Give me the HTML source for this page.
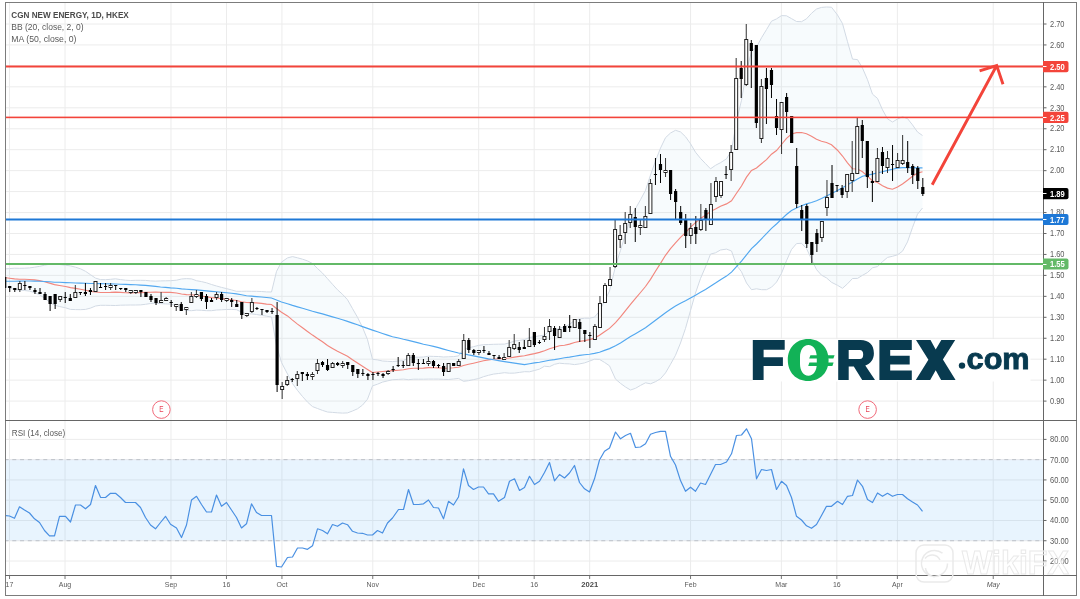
<!DOCTYPE html><html><head><meta charset="utf-8"><style>
html,body{margin:0;padding:0;background:#fff;width:1080px;height:599px;overflow:hidden}
svg{display:block;will-change:transform}
text{font-family:"Liberation Sans",sans-serif}
</style></head><body>
<svg width="1080" height="599" viewBox="0 0 1080 599">
<defs><clipPath id="cp"><rect x="6" y="3" width="1037" height="417"/></clipPath><clipPath id="cr"><rect x="6" y="421" width="1037" height="154"/></clipPath></defs>
<path d="M9.54 3V575 M65.03 3V575 M170.97 3V575 M226.46 3V575 M281.95 3V575 M372.75 3V575 M478.69 3V575 M534.18 3V575 M589.67 3V575 M690.56 3V575 M781.36 3V575 M836.85 3V575 M897.39 3V575 M993.24 3V575 M6 24.00H1043 M6 44.95H1043 M6 65.90H1043 M6 86.85H1043 M6 107.80H1043 M6 128.75H1043 M6 149.70H1043 M6 170.65H1043 M6 191.60H1043 M6 212.55H1043 M6 233.50H1043 M6 254.45H1043 M6 275.40H1043 M6 296.35H1043 M6 317.30H1043 M6 338.25H1043 M6 359.20H1043 M6 380.15H1043 M6 401.10H1043 M6 439.40H1043 M6 479.93H1043 M6 500.20H1043 M6 520.47H1043 M6 561.00H1043" stroke="#ececec" stroke-width="1" fill="none"/>
<g clip-path="url(#cp)">
<polygon points="4.5,268.9 9.5,268.6 14.5,268.2 19.5,268.3 24.5,268.2 29.5,267.9 34.5,267.2 39.5,266.4 44.5,265.2 49.5,264.2 54.5,263.9 59.5,264.5 65.5,265.2 70.5,265.9 75.5,267.2 80.5,268.8 85.5,271.3 90.5,274.7 95.5,278.1 100.5,279.6 105.5,279.7 110.5,279.3 115.5,278.8 120.5,279.6 125.5,280.2 130.5,280.5 135.5,280.3 140.5,280.3 145.5,280.4 150.5,280.9 155.5,281.1 160.5,280.9 165.5,280.8 170.5,280.7 176.5,280.2 181.5,279.0 186.5,278.6 191.5,278.9 196.5,280.7 201.5,281.6 206.5,282.8 211.5,284.5 216.5,286.0 221.5,287.4 226.5,288.6 231.5,289.9 236.5,291.3 241.5,291.3 246.5,291.2 251.5,291.3 256.5,291.3 261.5,291.5 266.5,291.9 271.5,292.0 276.5,271.4 281.5,262.1 287.5,257.9 292.5,256.6 297.5,257.8 302.5,259.2 307.5,260.9 312.5,263.5 317.5,268.5 322.5,273.1 327.5,278.7 332.5,284.3 337.5,289.8 342.5,294.3 347.5,299.7 352.5,308.6 357.5,317.3 362.5,327.3 367.5,339.6 372.5,359.3 377.5,359.9 382.5,361.0 387.5,361.3 392.5,361.6 398.5,361.0 403.5,360.5 408.5,357.8 413.5,357.2 418.5,357.2 423.5,357.0 428.5,356.2 433.5,356.4 438.5,356.5 443.5,357.0 448.5,356.8 453.5,356.6 458.5,355.9 463.5,349.7 468.5,347.8 473.5,346.7 478.5,345.4 483.5,344.7 488.5,344.5 493.5,344.3 498.5,344.2 504.5,344.1 509.5,342.8 514.5,341.0 519.5,340.4 524.5,339.6 529.5,337.5 534.5,336.7 539.5,335.8 544.5,335.2 549.5,330.9 554.5,330.3 559.5,328.2 564.5,326.9 569.5,324.4 574.5,320.4 579.5,318.9 584.5,318.2 589.5,318.2 594.5,317.1 599.5,311.2 604.5,301.1 609.5,291.0 615.5,266.2 620.5,250.3 625.5,234.1 630.5,218.5 635.5,208.5 640.5,199.7 645.5,190.3 650.5,175.0 655.5,160.9 660.5,148.1 665.5,137.7 670.5,133.0 675.5,130.3 680.5,131.9 685.5,136.7 690.5,143.7 695.5,152.2 700.5,158.4 705.5,163.6 710.5,168.8 715.5,165.3 720.5,162.7 726.5,158.8 731.5,150.5 736.5,121.4 741.5,100.2 746.5,71.3 751.5,51.4 756.5,47.1 761.5,37.8 766.5,29.6 771.5,21.2 776.5,18.9 781.5,15.6 786.5,15.8 791.5,18.6 796.5,21.5 801.5,21.7 806.5,18.8 811.5,13.3 816.5,9.0 821.5,7.4 826.5,7.0 831.5,7.2 837.5,15.0 842.5,23.6 847.5,41.7 852.5,59.1 857.5,59.6 862.5,68.1 867.5,79.7 872.5,94.2 877.5,98.4 882.5,109.8 887.5,118.8 892.5,122.0 897.5,119.0 902.5,116.8 907.5,118.6 912.5,124.9 917.5,132.0 922.5,135.5 922.5,208.0 917.5,214.2 912.5,227.5 907.5,241.9 902.5,251.2 897.5,254.8 892.5,256.3 887.5,257.4 882.5,261.7 877.5,266.6 872.5,267.8 867.5,272.5 862.5,275.3 857.5,278.4 852.5,278.5 847.5,283.8 842.5,288.3 837.5,285.3 831.5,282.3 826.5,277.9 821.5,275.2 816.5,269.6 811.5,259.1 806.5,248.5 801.5,243.3 796.5,243.6 791.5,249.5 786.5,260.7 781.5,273.3 776.5,282.1 771.5,287.2 766.5,289.7 761.5,289.7 756.5,288.8 751.5,289.7 746.5,283.0 741.5,271.8 736.5,265.2 731.5,251.0 726.5,249.1 720.5,250.0 715.5,252.8 710.5,254.1 705.5,266.9 700.5,278.5 695.5,293.0 690.5,310.6 685.5,328.4 680.5,343.0 675.5,355.3 670.5,364.3 665.5,372.9 660.5,378.7 655.5,381.7 650.5,383.8 645.5,382.8 640.5,385.4 635.5,388.3 630.5,390.0 625.5,387.0 620.5,383.4 615.5,379.1 609.5,365.8 604.5,362.4 599.5,359.4 594.5,359.2 589.5,361.1 584.5,362.9 579.5,363.9 574.5,364.6 569.5,363.9 564.5,363.7 559.5,363.2 554.5,364.3 549.5,366.7 544.5,366.2 539.5,369.1 534.5,370.5 529.5,371.8 524.5,371.7 519.5,372.4 514.5,373.1 509.5,373.2 504.5,372.7 498.5,373.5 493.5,374.1 488.5,375.3 483.5,376.7 478.5,378.6 473.5,379.6 468.5,380.7 463.5,381.3 458.5,378.4 453.5,379.0 448.5,379.5 443.5,379.4 438.5,379.1 433.5,379.1 428.5,379.1 423.5,379.2 418.5,379.2 413.5,379.2 408.5,379.7 403.5,379.1 398.5,379.4 392.5,379.7 387.5,380.9 382.5,382.1 377.5,384.2 372.5,385.9 367.5,399.2 362.5,405.1 357.5,408.8 352.5,411.0 347.5,412.9 342.5,413.1 337.5,412.8 332.5,412.4 327.5,412.0 322.5,410.4 317.5,408.5 312.5,406.6 307.5,402.1 302.5,396.5 297.5,390.4 292.5,383.6 287.5,374.0 281.5,362.5 276.5,345.6 271.5,317.0 266.5,316.2 261.5,315.3 256.5,314.5 251.5,313.9 246.5,313.8 241.5,312.1 236.5,309.7 231.5,309.4 226.5,309.5 221.5,309.8 216.5,310.0 211.5,310.7 206.5,310.7 201.5,310.3 196.5,310.1 191.5,310.7 186.5,310.5 181.5,308.9 176.5,305.9 170.5,304.1 165.5,303.9 160.5,303.7 155.5,303.1 150.5,303.5 145.5,304.3 140.5,304.9 135.5,305.0 130.5,305.0 125.5,305.1 120.5,305.2 115.5,305.5 110.5,305.4 105.5,305.3 100.5,305.3 95.5,306.0 90.5,308.1 85.5,309.4 80.5,309.7 75.5,309.6 70.5,309.4 65.5,307.8 59.5,306.5 54.5,305.2 49.5,302.1 44.5,298.2 39.5,294.7 34.5,292.6 29.5,291.1 24.5,290.5 19.5,290.0 14.5,289.7 9.5,287.8 4.5,286.1" fill="#1e8cc8" fill-opacity="0.036" stroke="none"/>
<polyline points="4.5,268.9 9.5,268.6 14.5,268.2 19.5,268.3 24.5,268.2 29.5,267.9 34.5,267.2 39.5,266.4 44.5,265.2 49.5,264.2 54.5,263.9 59.5,264.5 65.5,265.2 70.5,265.9 75.5,267.2 80.5,268.8 85.5,271.3 90.5,274.7 95.5,278.1 100.5,279.6 105.5,279.7 110.5,279.3 115.5,278.8 120.5,279.6 125.5,280.2 130.5,280.5 135.5,280.3 140.5,280.3 145.5,280.4 150.5,280.9 155.5,281.1 160.5,280.9 165.5,280.8 170.5,280.7 176.5,280.2 181.5,279.0 186.5,278.6 191.5,278.9 196.5,280.7 201.5,281.6 206.5,282.8 211.5,284.5 216.5,286.0 221.5,287.4 226.5,288.6 231.5,289.9 236.5,291.3 241.5,291.3 246.5,291.2 251.5,291.3 256.5,291.3 261.5,291.5 266.5,291.9 271.5,292.0 276.5,271.4 281.5,262.1 287.5,257.9 292.5,256.6 297.5,257.8 302.5,259.2 307.5,260.9 312.5,263.5 317.5,268.5 322.5,273.1 327.5,278.7 332.5,284.3 337.5,289.8 342.5,294.3 347.5,299.7 352.5,308.6 357.5,317.3 362.5,327.3 367.5,339.6 372.5,359.3 377.5,359.9 382.5,361.0 387.5,361.3 392.5,361.6 398.5,361.0 403.5,360.5 408.5,357.8 413.5,357.2 418.5,357.2 423.5,357.0 428.5,356.2 433.5,356.4 438.5,356.5 443.5,357.0 448.5,356.8 453.5,356.6 458.5,355.9 463.5,349.7 468.5,347.8 473.5,346.7 478.5,345.4 483.5,344.7 488.5,344.5 493.5,344.3 498.5,344.2 504.5,344.1 509.5,342.8 514.5,341.0 519.5,340.4 524.5,339.6 529.5,337.5 534.5,336.7 539.5,335.8 544.5,335.2 549.5,330.9 554.5,330.3 559.5,328.2 564.5,326.9 569.5,324.4 574.5,320.4 579.5,318.9 584.5,318.2 589.5,318.2 594.5,317.1 599.5,311.2 604.5,301.1 609.5,291.0 615.5,266.2 620.5,250.3 625.5,234.1 630.5,218.5 635.5,208.5 640.5,199.7 645.5,190.3 650.5,175.0 655.5,160.9 660.5,148.1 665.5,137.7 670.5,133.0 675.5,130.3 680.5,131.9 685.5,136.7 690.5,143.7 695.5,152.2 700.5,158.4 705.5,163.6 710.5,168.8 715.5,165.3 720.5,162.7 726.5,158.8 731.5,150.5 736.5,121.4 741.5,100.2 746.5,71.3 751.5,51.4 756.5,47.1 761.5,37.8 766.5,29.6 771.5,21.2 776.5,18.9 781.5,15.6 786.5,15.8 791.5,18.6 796.5,21.5 801.5,21.7 806.5,18.8 811.5,13.3 816.5,9.0 821.5,7.4 826.5,7.0 831.5,7.2 837.5,15.0 842.5,23.6 847.5,41.7 852.5,59.1 857.5,59.6 862.5,68.1 867.5,79.7 872.5,94.2 877.5,98.4 882.5,109.8 887.5,118.8 892.5,122.0 897.5,119.0 902.5,116.8 907.5,118.6 912.5,124.9 917.5,132.0 922.5,135.5" fill="none" stroke="#d2dae4" stroke-width="1"/>
<polyline points="4.5,286.1 9.5,287.8 14.5,289.7 19.5,290.0 24.5,290.5 29.5,291.1 34.5,292.6 39.5,294.7 44.5,298.2 49.5,302.1 54.5,305.2 59.5,306.5 65.5,307.8 70.5,309.4 75.5,309.6 80.5,309.7 85.5,309.4 90.5,308.1 95.5,306.0 100.5,305.3 105.5,305.3 110.5,305.4 115.5,305.5 120.5,305.2 125.5,305.1 130.5,305.0 135.5,305.0 140.5,304.9 145.5,304.3 150.5,303.5 155.5,303.1 160.5,303.7 165.5,303.9 170.5,304.1 176.5,305.9 181.5,308.9 186.5,310.5 191.5,310.7 196.5,310.1 201.5,310.3 206.5,310.7 211.5,310.7 216.5,310.0 221.5,309.8 226.5,309.5 231.5,309.4 236.5,309.7 241.5,312.1 246.5,313.8 251.5,313.9 256.5,314.5 261.5,315.3 266.5,316.2 271.5,317.0 276.5,345.6 281.5,362.5 287.5,374.0 292.5,383.6 297.5,390.4 302.5,396.5 307.5,402.1 312.5,406.6 317.5,408.5 322.5,410.4 327.5,412.0 332.5,412.4 337.5,412.8 342.5,413.1 347.5,412.9 352.5,411.0 357.5,408.8 362.5,405.1 367.5,399.2 372.5,385.9 377.5,384.2 382.5,382.1 387.5,380.9 392.5,379.7 398.5,379.4 403.5,379.1 408.5,379.7 413.5,379.2 418.5,379.2 423.5,379.2 428.5,379.1 433.5,379.1 438.5,379.1 443.5,379.4 448.5,379.5 453.5,379.0 458.5,378.4 463.5,381.3 468.5,380.7 473.5,379.6 478.5,378.6 483.5,376.7 488.5,375.3 493.5,374.1 498.5,373.5 504.5,372.7 509.5,373.2 514.5,373.1 519.5,372.4 524.5,371.7 529.5,371.8 534.5,370.5 539.5,369.1 544.5,366.2 549.5,366.7 554.5,364.3 559.5,363.2 564.5,363.7 569.5,363.9 574.5,364.6 579.5,363.9 584.5,362.9 589.5,361.1 594.5,359.2 599.5,359.4 604.5,362.4 609.5,365.8 615.5,379.1 620.5,383.4 625.5,387.0 630.5,390.0 635.5,388.3 640.5,385.4 645.5,382.8 650.5,383.8 655.5,381.7 660.5,378.7 665.5,372.9 670.5,364.3 675.5,355.3 680.5,343.0 685.5,328.4 690.5,310.6 695.5,293.0 700.5,278.5 705.5,266.9 710.5,254.1 715.5,252.8 720.5,250.0 726.5,249.1 731.5,251.0 736.5,265.2 741.5,271.8 746.5,283.0 751.5,289.7 756.5,288.8 761.5,289.7 766.5,289.7 771.5,287.2 776.5,282.1 781.5,273.3 786.5,260.7 791.5,249.5 796.5,243.6 801.5,243.3 806.5,248.5 811.5,259.1 816.5,269.6 821.5,275.2 826.5,277.9 831.5,282.3 837.5,285.3 842.5,288.3 847.5,283.8 852.5,278.5 857.5,278.4 862.5,275.3 867.5,272.5 872.5,267.8 877.5,266.6 882.5,261.7 887.5,257.4 892.5,256.3 897.5,254.8 902.5,251.2 907.5,241.9 912.5,227.5 917.5,214.2 922.5,208.0" fill="none" stroke="#d2dae4" stroke-width="1"/>
<polyline points="4.5,277.5 9.5,278.2 14.5,278.9 19.5,279.2 24.5,279.3 29.5,279.5 34.5,279.9 39.5,280.6 44.5,281.7 49.5,283.1 54.5,284.6 59.5,285.5 65.5,286.5 70.5,287.6 75.5,288.4 80.5,289.2 85.5,290.3 90.5,291.4 95.5,292.0 100.5,292.5 105.5,292.5 110.5,292.4 115.5,292.1 120.5,292.4 125.5,292.7 130.5,292.8 135.5,292.7 140.5,292.6 145.5,292.4 150.5,292.2 155.5,292.1 160.5,292.3 165.5,292.4 170.5,292.4 176.5,293.0 181.5,294.0 186.5,294.6 191.5,294.8 196.5,295.4 201.5,296.0 206.5,296.7 211.5,297.6 216.5,298.0 221.5,298.6 226.5,299.1 231.5,299.7 236.5,300.5 241.5,301.7 246.5,302.5 251.5,302.6 256.5,302.9 261.5,303.4 266.5,304.1 271.5,304.5 276.5,308.5 281.5,312.3 287.5,315.9 292.5,320.1 297.5,324.1 302.5,327.8 307.5,331.5 312.5,335.1 317.5,338.5 322.5,341.8 327.5,345.4 332.5,348.4 337.5,351.3 342.5,353.7 347.5,356.3 352.5,359.8 357.5,363.0 362.5,366.2 367.5,369.4 372.5,372.6 377.5,372.0 382.5,371.5 387.5,371.1 392.5,370.6 398.5,370.2 403.5,369.8 408.5,368.7 413.5,368.2 418.5,368.2 423.5,368.1 428.5,367.7 433.5,367.8 438.5,367.8 443.5,368.2 448.5,368.1 453.5,367.8 458.5,367.2 463.5,365.5 468.5,364.3 473.5,363.2 478.5,362.0 483.5,360.7 488.5,359.9 493.5,359.2 498.5,358.8 504.5,358.4 509.5,358.0 514.5,357.1 519.5,356.4 524.5,355.7 529.5,354.6 534.5,353.6 539.5,352.4 544.5,350.7 549.5,348.8 554.5,347.3 559.5,345.7 564.5,345.3 569.5,344.1 574.5,342.5 579.5,341.4 584.5,340.6 589.5,339.6 594.5,338.1 599.5,335.3 604.5,331.8 609.5,328.4 615.5,322.6 620.5,316.9 625.5,310.6 630.5,304.3 635.5,298.4 640.5,292.5 645.5,286.5 650.5,279.4 655.5,271.3 660.5,263.4 665.5,255.3 670.5,248.6 675.5,242.8 680.5,237.4 685.5,232.6 690.5,227.2 695.5,222.6 700.5,218.5 705.5,215.2 710.5,211.5 715.5,209.1 720.5,206.3 726.5,203.9 731.5,200.8 736.5,193.3 741.5,186.0 746.5,177.1 751.5,170.5 756.5,167.9 761.5,163.7 766.5,159.7 771.5,154.2 776.5,150.5 781.5,144.5 786.5,138.3 791.5,134.0 796.5,132.6 801.5,132.5 806.5,133.7 811.5,136.2 816.5,139.3 821.5,141.3 826.5,142.5 831.5,144.8 837.5,150.2 842.5,156.0 847.5,162.8 852.5,168.8 857.5,169.0 862.5,171.7 867.5,176.1 872.5,181.0 877.5,182.5 882.5,185.8 887.5,188.1 892.5,189.2 897.5,186.9 902.5,184.0 907.5,180.2 912.5,176.2 917.5,173.1 922.5,171.7" fill="none" stroke="#f2877e" stroke-width="1.15"/>
<polyline points="4.5,281.2 9.5,281.2 14.5,281.2 19.5,281.1 24.5,281.0 29.5,281.0 34.5,281.1 39.5,281.2 44.5,281.5 49.5,281.8 54.5,282.2 59.5,282.3 65.5,282.6 70.5,282.8 75.5,283.0 80.5,283.1 85.5,283.3 90.5,283.5 95.5,283.5 100.5,283.6 105.5,283.7 110.5,283.9 115.5,284.0 120.5,284.2 125.5,284.4 130.5,284.6 135.5,284.8 140.5,285.1 145.5,285.4 150.5,285.9 155.5,286.4 160.5,287.0 165.5,287.4 170.5,287.9 176.5,288.3 181.5,288.9 186.5,289.3 191.5,289.6 196.5,289.9 201.5,290.4 206.5,290.9 211.5,291.4 216.5,291.8 221.5,292.2 226.5,292.7 231.5,293.2 236.5,293.9 241.5,294.8 246.5,295.7 251.5,296.1 256.5,296.6 261.5,297.0 266.5,297.5 271.5,298.0 276.5,300.0 281.5,302.0 287.5,303.7 292.5,305.4 297.5,306.9 302.5,308.3 307.5,309.7 312.5,311.3 317.5,312.6 322.5,313.9 327.5,315.4 332.5,316.9 337.5,318.3 342.5,319.7 347.5,321.4 352.5,323.1 357.5,324.8 362.5,326.6 367.5,328.4 372.5,330.1 377.5,331.8 382.5,333.5 387.5,335.1 392.5,336.7 398.5,338.0 403.5,339.3 408.5,340.4 413.5,341.6 418.5,342.9 423.5,344.2 428.5,345.3 433.5,346.4 438.5,347.6 443.5,349.1 448.5,350.5 453.5,351.8 458.5,353.0 463.5,353.7 468.5,354.9 473.5,355.9 478.5,356.9 483.5,357.9 488.5,358.9 493.5,359.7 498.5,360.6 504.5,361.6 509.5,362.4 514.5,363.1 519.5,363.9 524.5,364.6 529.5,363.7 534.5,362.9 539.5,362.2 544.5,361.3 549.5,360.3 554.5,359.6 559.5,358.7 564.5,357.8 569.5,357.1 574.5,356.2 579.5,355.4 584.5,354.8 589.5,354.2 594.5,353.4 599.5,352.2 604.5,350.4 609.5,348.6 615.5,345.7 620.5,342.9 625.5,339.8 630.5,336.6 635.5,333.7 640.5,330.7 645.5,327.7 650.5,324.0 655.5,320.2 660.5,316.5 665.5,312.7 670.5,309.3 675.5,306.1 680.5,303.3 685.5,300.7 690.5,297.9 695.5,295.2 700.5,292.3 705.5,289.4 710.5,286.3 715.5,283.1 720.5,279.7 726.5,276.1 731.5,272.1 736.5,266.7 741.5,261.2 746.5,254.9 751.5,248.7 756.5,244.0 761.5,238.8 766.5,233.7 771.5,228.4 776.5,224.0 781.5,219.2 786.5,214.5 791.5,210.6 796.5,207.9 801.5,205.8 806.5,203.9 811.5,202.5 816.5,200.7 821.5,198.6 826.5,196.1 831.5,193.5 837.5,190.5 842.5,187.7 847.5,184.7 852.5,182.1 857.5,178.9 862.5,176.2 867.5,175.1 872.5,174.1 877.5,172.8 882.5,171.8 887.5,170.4 892.5,169.2 897.5,168.1 902.5,167.6 907.5,167.5 912.5,167.6 917.5,167.8 922.5,167.8" fill="none" stroke="#52a8f0" stroke-width="1.15"/>
<rect x="9.24" y="286" width="1" height="6" fill="#000"/><rect x="8.14" y="286" width="3.2" height="2" fill="#000"/><rect x="14.28" y="288" width="1" height="4" fill="#000"/><rect x="13.18" y="288" width="3.2" height="2" fill="#000"/><rect x="19.33" y="281" width="1" height="11" fill="#333"/><rect x="18.33" y="283.5" width="3" height="6" fill="#fff" stroke="#222" stroke-width="1"/><rect x="24.37" y="281" width="1" height="9" fill="#000"/><rect x="23.27" y="285" width="3.2" height="1" fill="#000"/><rect x="29.42" y="286" width="1" height="4" fill="#000"/><rect x="28.32" y="286" width="3.2" height="2" fill="#000"/><rect x="34.46" y="288" width="1" height="6" fill="#000"/><rect x="33.36" y="290" width="3.2" height="2" fill="#000"/><rect x="39.51" y="288" width="1" height="6" fill="#000"/><rect x="38.41" y="292" width="3.2" height="2" fill="#000"/><rect x="44.55" y="292" width="1" height="8" fill="#000"/><rect x="43.45" y="294" width="3.2" height="6" fill="#000"/><rect x="49.60" y="296" width="1" height="15" fill="#000"/><rect x="48.50" y="296" width="3.2" height="8" fill="#000"/><rect x="54.64" y="294" width="1" height="15" fill="#000"/><rect x="53.54" y="294" width="3.2" height="10" fill="#000"/><rect x="59.69" y="296" width="1" height="6" fill="#333"/><rect x="58.69" y="296.5" width="3" height="3" fill="#fff" stroke="#222" stroke-width="1"/><rect x="64.73" y="292" width="1" height="11" fill="#000"/><rect x="63.63" y="297" width="3.2" height="1" fill="#000"/><rect x="69.78" y="294" width="1" height="7" fill="#000"/><rect x="68.68" y="298" width="3.2" height="3" fill="#000"/><rect x="74.82" y="285" width="1" height="13" fill="#333"/><rect x="73.82" y="292.5" width="3" height="5" fill="#fff" stroke="#222" stroke-width="1"/><rect x="79.86" y="292" width="1" height="3" fill="#000"/><rect x="78.76" y="292" width="3.2" height="1" fill="#000"/><rect x="84.91" y="283" width="1" height="13" fill="#000"/><rect x="83.81" y="292" width="3.2" height="2" fill="#000"/><rect x="89.95" y="288" width="1" height="7" fill="#000"/><rect x="88.85" y="290" width="3.2" height="2" fill="#000"/><rect x="95.00" y="281" width="1" height="11" fill="#333"/><rect x="94.00" y="281.5" width="3" height="10" fill="#fff" stroke="#222" stroke-width="1"/><rect x="100.04" y="283" width="1" height="5" fill="#000"/><rect x="98.94" y="287" width="3.2" height="1" fill="#000"/><rect x="105.09" y="283" width="1" height="7" fill="#000"/><rect x="103.99" y="286" width="3.2" height="1" fill="#000"/><rect x="110.13" y="283" width="1" height="7" fill="#333"/><rect x="109.13" y="285.5" width="3" height="2" fill="#fff" stroke="#222" stroke-width="1"/><rect x="115.18" y="285" width="1" height="5" fill="#000"/><rect x="114.08" y="285" width="3.2" height="1" fill="#000"/><rect x="120.22" y="288" width="1" height="2" fill="#000"/><rect x="119.12" y="288" width="3.2" height="1" fill="#000"/><rect x="125.27" y="288" width="1" height="4" fill="#000"/><rect x="124.17" y="288" width="3.2" height="2" fill="#000"/><rect x="130.31" y="290" width="1" height="4" fill="#333"/><rect x="129.31" y="290.5" width="3" height="2" fill="#fff" stroke="#222" stroke-width="1"/><rect x="135.35" y="290" width="1" height="4" fill="#333"/><rect x="134.35" y="290.5" width="3" height="2" fill="#fff" stroke="#222" stroke-width="1"/><rect x="140.40" y="290" width="1" height="7" fill="#000"/><rect x="139.30" y="290" width="3.2" height="2" fill="#000"/><rect x="145.44" y="292" width="1" height="5" fill="#000"/><rect x="144.34" y="292" width="3.2" height="5" fill="#000"/><rect x="150.49" y="294" width="1" height="8" fill="#000"/><rect x="149.39" y="296" width="3.2" height="4" fill="#000"/><rect x="155.53" y="298" width="1" height="7" fill="#000"/><rect x="154.43" y="298" width="3.2" height="5" fill="#000"/><rect x="160.58" y="292" width="1" height="10" fill="#333"/><rect x="159.58" y="300.5" width="3" height="2" fill="#fff" stroke="#222" stroke-width="1"/><rect x="165.62" y="297" width="1" height="3" fill="#333"/><rect x="164.62" y="298.5" width="3" height="2" fill="#fff" stroke="#222" stroke-width="1"/><rect x="170.67" y="300" width="1" height="7" fill="#000"/><rect x="169.57" y="302" width="3.2" height="1" fill="#000"/><rect x="175.71" y="304" width="1" height="7" fill="#333"/><rect x="174.71" y="304.5" width="3" height="2" fill="#fff" stroke="#222" stroke-width="1"/><rect x="180.76" y="302" width="1" height="9" fill="#000"/><rect x="179.66" y="304" width="3.2" height="7" fill="#000"/><rect x="185.80" y="307" width="1" height="8" fill="#333"/><rect x="184.80" y="307.5" width="3" height="2" fill="#fff" stroke="#222" stroke-width="1"/><rect x="190.85" y="292" width="1" height="11" fill="#333"/><rect x="189.85" y="296.5" width="3" height="6" fill="#fff" stroke="#222" stroke-width="1"/><rect x="195.89" y="290" width="1" height="8" fill="#333"/><rect x="194.89" y="294.5" width="3" height="2" fill="#fff" stroke="#222" stroke-width="1"/><rect x="200.93" y="292" width="1" height="9" fill="#000"/><rect x="199.83" y="292" width="3.2" height="7" fill="#000"/><rect x="205.98" y="294" width="1" height="15" fill="#000"/><rect x="204.88" y="296" width="3.2" height="6" fill="#000"/><rect x="211.02" y="298" width="1" height="4" fill="#000"/><rect x="209.92" y="300" width="3.2" height="2" fill="#000"/><rect x="216.07" y="292" width="1" height="8" fill="#333"/><rect x="215.07" y="294.5" width="3" height="3" fill="#fff" stroke="#222" stroke-width="1"/><rect x="221.11" y="292" width="1" height="10" fill="#000"/><rect x="220.01" y="294" width="3.2" height="6" fill="#000"/><rect x="226.16" y="298" width="1" height="4" fill="#333"/><rect x="225.16" y="298.5" width="3" height="2" fill="#fff" stroke="#222" stroke-width="1"/><rect x="231.20" y="298" width="1" height="9" fill="#000"/><rect x="230.10" y="300" width="3.2" height="2" fill="#000"/><rect x="236.25" y="300" width="1" height="7" fill="#000"/><rect x="235.15" y="304" width="3.2" height="3" fill="#000"/><rect x="241.29" y="302" width="1" height="17" fill="#000"/><rect x="240.19" y="302" width="3.2" height="13" fill="#000"/><rect x="246.34" y="313" width="1" height="4" fill="#333"/><rect x="245.34" y="313.5" width="3" height="2" fill="#fff" stroke="#222" stroke-width="1"/><rect x="251.38" y="298" width="1" height="15" fill="#333"/><rect x="250.38" y="302.5" width="3" height="9" fill="#fff" stroke="#222" stroke-width="1"/><rect x="256.43" y="307" width="1" height="3" fill="#000"/><rect x="255.33" y="308" width="3.2" height="1" fill="#000"/><rect x="261.47" y="309" width="1" height="6" fill="#000"/><rect x="260.37" y="309" width="3.2" height="1" fill="#000"/><rect x="266.51" y="310" width="1" height="3" fill="#000"/><rect x="265.41" y="310" width="3.2" height="2" fill="#000"/><rect x="271.56" y="308" width="1" height="6" fill="#000"/><rect x="270.46" y="311" width="3.2" height="1" fill="#000"/><rect x="276.60" y="302" width="1" height="90" fill="#000"/><rect x="275.50" y="315" width="3.2" height="70" fill="#000"/><rect x="281.65" y="382" width="1" height="17" fill="#333"/><rect x="280.65" y="386.5" width="3" height="3" fill="#fff" stroke="#222" stroke-width="1"/><rect x="286.69" y="376" width="1" height="10" fill="#333"/><rect x="285.69" y="380.5" width="3" height="4" fill="#fff" stroke="#222" stroke-width="1"/><rect x="291.74" y="378" width="1" height="4" fill="#000"/><rect x="290.64" y="379" width="3.2" height="1" fill="#000"/><rect x="296.78" y="371" width="1" height="15" fill="#333"/><rect x="295.78" y="374.5" width="3" height="4" fill="#fff" stroke="#222" stroke-width="1"/><rect x="301.83" y="372" width="1" height="9" fill="#000"/><rect x="300.73" y="372" width="3.2" height="2" fill="#000"/><rect x="306.87" y="372" width="1" height="8" fill="#000"/><rect x="305.77" y="374" width="3.2" height="2" fill="#000"/><rect x="311.92" y="372" width="1" height="8" fill="#333"/><rect x="310.92" y="374.5" width="3" height="2" fill="#fff" stroke="#222" stroke-width="1"/><rect x="316.96" y="359" width="1" height="15" fill="#333"/><rect x="315.96" y="363.5" width="3" height="7" fill="#fff" stroke="#222" stroke-width="1"/><rect x="322.01" y="361" width="1" height="6" fill="#000"/><rect x="320.91" y="362" width="3.2" height="3" fill="#000"/><rect x="327.05" y="359" width="1" height="12" fill="#000"/><rect x="325.95" y="365" width="3.2" height="5" fill="#000"/><rect x="332.09" y="362" width="1" height="6" fill="#333"/><rect x="331.09" y="363.5" width="3" height="4" fill="#fff" stroke="#222" stroke-width="1"/><rect x="337.14" y="362" width="1" height="4" fill="#000"/><rect x="336.04" y="363" width="3.2" height="2" fill="#000"/><rect x="342.18" y="361" width="1" height="7" fill="#333"/><rect x="341.18" y="363.5" width="3" height="2" fill="#fff" stroke="#222" stroke-width="1"/><rect x="347.23" y="362" width="1" height="7" fill="#000"/><rect x="346.13" y="362" width="3.2" height="3" fill="#000"/><rect x="352.27" y="365" width="1" height="11" fill="#000"/><rect x="351.17" y="365" width="3.2" height="7" fill="#000"/><rect x="357.32" y="369" width="1" height="9" fill="#000"/><rect x="356.22" y="369" width="3.2" height="5" fill="#000"/><rect x="362.36" y="369" width="1" height="7" fill="#000"/><rect x="361.26" y="373" width="3.2" height="1" fill="#000"/><rect x="367.41" y="373" width="1" height="7" fill="#000"/><rect x="366.31" y="374" width="3.2" height="2" fill="#000"/><rect x="372.45" y="372" width="1" height="8" fill="#000"/><rect x="371.35" y="374" width="3.2" height="1" fill="#000"/><rect x="377.50" y="372" width="1" height="4" fill="#000"/><rect x="376.40" y="373" width="3.2" height="1" fill="#000"/><rect x="382.54" y="373" width="1" height="5" fill="#000"/><rect x="381.44" y="374" width="3.2" height="2" fill="#000"/><rect x="387.58" y="370" width="1" height="5" fill="#333"/><rect x="386.58" y="371.5" width="3" height="2" fill="#fff" stroke="#222" stroke-width="1"/><rect x="392.63" y="366" width="1" height="6" fill="#000"/><rect x="391.53" y="369" width="3.2" height="1" fill="#000"/><rect x="397.67" y="357" width="1" height="10" fill="#000"/><rect x="396.57" y="365" width="3.2" height="1" fill="#000"/><rect x="402.72" y="361" width="1" height="7" fill="#000"/><rect x="401.62" y="365" width="3.2" height="1" fill="#000"/><rect x="407.76" y="353" width="1" height="13" fill="#333"/><rect x="406.76" y="355.5" width="3" height="10" fill="#fff" stroke="#222" stroke-width="1"/><rect x="412.81" y="353" width="1" height="13" fill="#000"/><rect x="411.71" y="355" width="3.2" height="8" fill="#000"/><rect x="417.85" y="359" width="1" height="11" fill="#000"/><rect x="416.75" y="363" width="3.2" height="1" fill="#000"/><rect x="422.90" y="359" width="1" height="4" fill="#000"/><rect x="421.80" y="363" width="3.2" height="1" fill="#000"/><rect x="427.94" y="357" width="1" height="9" fill="#333"/><rect x="426.94" y="361.5" width="3" height="2" fill="#fff" stroke="#222" stroke-width="1"/><rect x="432.99" y="360" width="1" height="8" fill="#000"/><rect x="431.89" y="361" width="3.2" height="5" fill="#000"/><rect x="438.03" y="364" width="1" height="4" fill="#000"/><rect x="436.93" y="365" width="3.2" height="1" fill="#000"/><rect x="443.08" y="363" width="1" height="13" fill="#000"/><rect x="441.98" y="366" width="3.2" height="6" fill="#000"/><rect x="448.12" y="363" width="1" height="9" fill="#333"/><rect x="447.12" y="363.5" width="3" height="8" fill="#fff" stroke="#222" stroke-width="1"/><rect x="453.16" y="363" width="1" height="3" fill="#000"/><rect x="452.06" y="363" width="3.2" height="3" fill="#000"/><rect x="458.21" y="359" width="1" height="7" fill="#333"/><rect x="457.21" y="361.5" width="3" height="4" fill="#fff" stroke="#222" stroke-width="1"/><rect x="463.25" y="334" width="1" height="25" fill="#333"/><rect x="462.25" y="340.5" width="3" height="18" fill="#fff" stroke="#222" stroke-width="1"/><rect x="468.30" y="338" width="1" height="15" fill="#000"/><rect x="467.20" y="340" width="3.2" height="10" fill="#000"/><rect x="473.34" y="349" width="1" height="6" fill="#000"/><rect x="472.24" y="350" width="3.2" height="3" fill="#000"/><rect x="478.39" y="350" width="1" height="5" fill="#333"/><rect x="477.39" y="350.5" width="3" height="2" fill="#fff" stroke="#222" stroke-width="1"/><rect x="483.43" y="346" width="1" height="7" fill="#000"/><rect x="482.33" y="350" width="3.2" height="1" fill="#000"/><rect x="488.48" y="351" width="1" height="4" fill="#000"/><rect x="487.38" y="353" width="3.2" height="2" fill="#000"/><rect x="493.52" y="355" width="1" height="4" fill="#000"/><rect x="492.42" y="355" width="3.2" height="1" fill="#000"/><rect x="498.57" y="355" width="1" height="4" fill="#000"/><rect x="497.47" y="357" width="3.2" height="2" fill="#000"/><rect x="503.61" y="353" width="1" height="6" fill="#333"/><rect x="502.61" y="357.5" width="3" height="2" fill="#fff" stroke="#222" stroke-width="1"/><rect x="508.66" y="340" width="1" height="17" fill="#333"/><rect x="507.66" y="347.5" width="3" height="9" fill="#fff" stroke="#222" stroke-width="1"/><rect x="513.70" y="334" width="1" height="16" fill="#333"/><rect x="512.70" y="344.5" width="3" height="4" fill="#fff" stroke="#222" stroke-width="1"/><rect x="518.74" y="342" width="1" height="11" fill="#000"/><rect x="517.64" y="347" width="3.2" height="3" fill="#000"/><rect x="523.79" y="340" width="1" height="9" fill="#000"/><rect x="522.69" y="347" width="3.2" height="2" fill="#000"/><rect x="528.83" y="328" width="1" height="19" fill="#333"/><rect x="527.83" y="340.5" width="3" height="6" fill="#fff" stroke="#222" stroke-width="1"/><rect x="533.88" y="332" width="1" height="15" fill="#000"/><rect x="532.78" y="332" width="3.2" height="13" fill="#000"/><rect x="538.92" y="340" width="1" height="4" fill="#000"/><rect x="537.82" y="342" width="3.2" height="1" fill="#000"/><rect x="543.97" y="327" width="1" height="15" fill="#333"/><rect x="542.97" y="336.5" width="3" height="3" fill="#fff" stroke="#222" stroke-width="1"/><rect x="549.01" y="319" width="1" height="21" fill="#333"/><rect x="548.01" y="326.5" width="3" height="5" fill="#fff" stroke="#222" stroke-width="1"/><rect x="554.06" y="326" width="1" height="24" fill="#000"/><rect x="552.96" y="328" width="3.2" height="8" fill="#000"/><rect x="559.10" y="326" width="1" height="12" fill="#333"/><rect x="558.10" y="329.5" width="3" height="8" fill="#fff" stroke="#222" stroke-width="1"/><rect x="564.15" y="324" width="1" height="8" fill="#000"/><rect x="563.05" y="326" width="3.2" height="6" fill="#000"/><rect x="569.19" y="315" width="1" height="17" fill="#000"/><rect x="568.09" y="326" width="3.2" height="2" fill="#000"/><rect x="574.24" y="319" width="1" height="9" fill="#333"/><rect x="573.24" y="319.5" width="3" height="8" fill="#fff" stroke="#222" stroke-width="1"/><rect x="579.28" y="319" width="1" height="23" fill="#000"/><rect x="578.18" y="322" width="3.2" height="7" fill="#000"/><rect x="584.32" y="330" width="1" height="12" fill="#000"/><rect x="583.22" y="330" width="3.2" height="4" fill="#000"/><rect x="589.37" y="332" width="1" height="16" fill="#000"/><rect x="588.27" y="335" width="3.2" height="1" fill="#000"/><rect x="594.41" y="324" width="1" height="16" fill="#333"/><rect x="593.41" y="326.5" width="3" height="13" fill="#fff" stroke="#222" stroke-width="1"/><rect x="599.46" y="296" width="1" height="32" fill="#333"/><rect x="598.46" y="303.5" width="3" height="24" fill="#fff" stroke="#222" stroke-width="1"/><rect x="604.50" y="283" width="1" height="20" fill="#333"/><rect x="603.50" y="285.5" width="3" height="17" fill="#fff" stroke="#222" stroke-width="1"/><rect x="609.55" y="267" width="1" height="19" fill="#333"/><rect x="608.55" y="279.5" width="3" height="6" fill="#fff" stroke="#222" stroke-width="1"/><rect x="614.59" y="220" width="1" height="48" fill="#333"/><rect x="613.59" y="229.5" width="3" height="37" fill="#fff" stroke="#222" stroke-width="1"/><rect x="619.64" y="225" width="1" height="23" fill="#333"/><rect x="618.64" y="235.5" width="3" height="4" fill="#fff" stroke="#222" stroke-width="1"/><rect x="624.68" y="212" width="1" height="32" fill="#333"/><rect x="623.68" y="223.5" width="3" height="9" fill="#fff" stroke="#222" stroke-width="1"/><rect x="629.73" y="206" width="1" height="22" fill="#333"/><rect x="628.73" y="214.5" width="3" height="8" fill="#fff" stroke="#222" stroke-width="1"/><rect x="634.77" y="208" width="1" height="34" fill="#000"/><rect x="633.67" y="217" width="3.2" height="10" fill="#000"/><rect x="639.82" y="220" width="1" height="15" fill="#333"/><rect x="638.82" y="225.5" width="3" height="2" fill="#fff" stroke="#222" stroke-width="1"/><rect x="644.86" y="206" width="1" height="22" fill="#333"/><rect x="643.86" y="216.5" width="3" height="11" fill="#fff" stroke="#222" stroke-width="1"/><rect x="649.90" y="179" width="1" height="35" fill="#333"/><rect x="648.90" y="183.5" width="3" height="30" fill="#fff" stroke="#222" stroke-width="1"/><rect x="654.95" y="158" width="1" height="27" fill="#000"/><rect x="653.85" y="174" width="3.2" height="1" fill="#000"/><rect x="659.99" y="154" width="1" height="29" fill="#000"/><rect x="658.89" y="164" width="3.2" height="6" fill="#000"/><rect x="665.04" y="158" width="1" height="19" fill="#333"/><rect x="664.04" y="170.5" width="3" height="2" fill="#fff" stroke="#222" stroke-width="1"/><rect x="670.08" y="170" width="1" height="30" fill="#000"/><rect x="668.98" y="170" width="3.2" height="24" fill="#000"/><rect x="675.13" y="189" width="1" height="31" fill="#000"/><rect x="674.03" y="191" width="3.2" height="11" fill="#000"/><rect x="680.17" y="206" width="1" height="19" fill="#000"/><rect x="679.07" y="212" width="3.2" height="11" fill="#000"/><rect x="685.22" y="214" width="1" height="34" fill="#000"/><rect x="684.12" y="220" width="3.2" height="16" fill="#000"/><rect x="690.26" y="223" width="1" height="21" fill="#333"/><rect x="689.26" y="228.5" width="3" height="7" fill="#fff" stroke="#222" stroke-width="1"/><rect x="695.31" y="216" width="1" height="28" fill="#000"/><rect x="694.21" y="227" width="3.2" height="7" fill="#000"/><rect x="700.35" y="204" width="1" height="27" fill="#333"/><rect x="699.35" y="220.5" width="3" height="9" fill="#fff" stroke="#222" stroke-width="1"/><rect x="705.39" y="208" width="1" height="23" fill="#000"/><rect x="704.29" y="210" width="3.2" height="10" fill="#000"/><rect x="710.44" y="183" width="1" height="42" fill="#333"/><rect x="709.44" y="204.5" width="3" height="20" fill="#fff" stroke="#222" stroke-width="1"/><rect x="715.48" y="177" width="1" height="25" fill="#333"/><rect x="714.48" y="181.5" width="3" height="15" fill="#fff" stroke="#222" stroke-width="1"/><rect x="720.53" y="181" width="1" height="17" fill="#333"/><rect x="719.53" y="181.5" width="3" height="14" fill="#fff" stroke="#222" stroke-width="1"/><rect x="725.57" y="166" width="1" height="13" fill="#000"/><rect x="724.47" y="174" width="3.2" height="1" fill="#000"/><rect x="730.62" y="145" width="1" height="36" fill="#333"/><rect x="729.62" y="152.5" width="3" height="17" fill="#fff" stroke="#222" stroke-width="1"/><rect x="735.66" y="58" width="1" height="92" fill="#333"/><rect x="734.66" y="78.5" width="3" height="71" fill="#fff" stroke="#222" stroke-width="1"/><rect x="740.71" y="61" width="1" height="37" fill="#000"/><rect x="739.61" y="68" width="3.2" height="11" fill="#000"/><rect x="745.75" y="24" width="1" height="62" fill="#333"/><rect x="744.75" y="39.5" width="3" height="45" fill="#fff" stroke="#222" stroke-width="1"/><rect x="750.80" y="40" width="1" height="48" fill="#000"/><rect x="749.70" y="43" width="3.2" height="8" fill="#000"/><rect x="755.84" y="45" width="1" height="83" fill="#000"/><rect x="754.74" y="45" width="3.2" height="78" fill="#000"/><rect x="760.89" y="79" width="1" height="64" fill="#333"/><rect x="759.89" y="86.5" width="3" height="52" fill="#fff" stroke="#222" stroke-width="1"/><rect x="765.93" y="68" width="1" height="56" fill="#000"/><rect x="764.83" y="78" width="3.2" height="11" fill="#000"/><rect x="770.97" y="68" width="1" height="30" fill="#000"/><rect x="769.87" y="70" width="3.2" height="15" fill="#000"/><rect x="776.02" y="99" width="1" height="36" fill="#000"/><rect x="774.92" y="116" width="3.2" height="12" fill="#000"/><rect x="781.06" y="102" width="1" height="52" fill="#333"/><rect x="780.06" y="102.5" width="3" height="27" fill="#fff" stroke="#222" stroke-width="1"/><rect x="786.11" y="93" width="1" height="40" fill="#000"/><rect x="785.01" y="97" width="3.2" height="15" fill="#000"/><rect x="791.15" y="116" width="1" height="27" fill="#000"/><rect x="790.05" y="116" width="3.2" height="27" fill="#000"/><rect x="796.20" y="148" width="1" height="60" fill="#000"/><rect x="795.10" y="166" width="3.2" height="38" fill="#000"/><rect x="801.24" y="205" width="1" height="26" fill="#000"/><rect x="800.14" y="210" width="3.2" height="9" fill="#000"/><rect x="806.29" y="204" width="1" height="44" fill="#000"/><rect x="805.19" y="206" width="3.2" height="38" fill="#000"/><rect x="811.33" y="242" width="1" height="22" fill="#000"/><rect x="810.23" y="242" width="3.2" height="13" fill="#000"/><rect x="816.38" y="229" width="1" height="23" fill="#000"/><rect x="815.28" y="233" width="3.2" height="11" fill="#000"/><rect x="821.42" y="221" width="1" height="21" fill="#333"/><rect x="820.42" y="221.5" width="3" height="16" fill="#fff" stroke="#222" stroke-width="1"/><rect x="826.47" y="180" width="1" height="36" fill="#333"/><rect x="825.47" y="197.5" width="3" height="10" fill="#fff" stroke="#222" stroke-width="1"/><rect x="831.51" y="165" width="1" height="33" fill="#000"/><rect x="830.41" y="183" width="3.2" height="15" fill="#000"/><rect x="836.55" y="185" width="1" height="7" fill="#000"/><rect x="835.45" y="185" width="3.2" height="1" fill="#000"/><rect x="841.60" y="185" width="1" height="13" fill="#000"/><rect x="840.50" y="188" width="3.2" height="7" fill="#000"/><rect x="846.64" y="174" width="1" height="24" fill="#333"/><rect x="845.64" y="174.5" width="3" height="17" fill="#fff" stroke="#222" stroke-width="1"/><rect x="851.69" y="141" width="1" height="51" fill="#333"/><rect x="850.69" y="173.5" width="3" height="7" fill="#fff" stroke="#222" stroke-width="1"/><rect x="856.73" y="118" width="1" height="56" fill="#333"/><rect x="855.73" y="126.5" width="3" height="47" fill="#fff" stroke="#222" stroke-width="1"/><rect x="861.78" y="120" width="1" height="38" fill="#000"/><rect x="860.68" y="125" width="3.2" height="16" fill="#000"/><rect x="866.82" y="141" width="1" height="47" fill="#000"/><rect x="865.72" y="141" width="3.2" height="36" fill="#000"/><rect x="871.87" y="171" width="1" height="31" fill="#000"/><rect x="870.77" y="181" width="3.2" height="2" fill="#000"/><rect x="876.91" y="148" width="1" height="34" fill="#333"/><rect x="875.91" y="158.5" width="3" height="23" fill="#fff" stroke="#222" stroke-width="1"/><rect x="881.96" y="147" width="1" height="27" fill="#000"/><rect x="880.86" y="152" width="3.2" height="14" fill="#000"/><rect x="887.00" y="151" width="1" height="22" fill="#333"/><rect x="886.00" y="158.5" width="3" height="9" fill="#fff" stroke="#222" stroke-width="1"/><rect x="892.04" y="145" width="1" height="36" fill="#000"/><rect x="890.94" y="164" width="3.2" height="1" fill="#000"/><rect x="897.09" y="153" width="1" height="15" fill="#333"/><rect x="896.09" y="160.5" width="3" height="7" fill="#fff" stroke="#222" stroke-width="1"/><rect x="902.13" y="135" width="1" height="30" fill="#333"/><rect x="901.13" y="160.5" width="3" height="3" fill="#fff" stroke="#222" stroke-width="1"/><rect x="907.18" y="141" width="1" height="32" fill="#000"/><rect x="906.08" y="162" width="3.2" height="6" fill="#000"/><rect x="912.22" y="164" width="1" height="20" fill="#000"/><rect x="911.12" y="166" width="3.2" height="9" fill="#000"/><rect x="917.27" y="166" width="1" height="23" fill="#000"/><rect x="916.17" y="168" width="3.2" height="13" fill="#000"/><rect x="922.31" y="178" width="1" height="18" fill="#000"/><rect x="921.21" y="187" width="3.2" height="7" fill="#000"/>
<rect x="6" y="65.5" width="1037" height="2" fill="#f3443a"/>
<rect x="6" y="116.6" width="1037" height="1.6" fill="#f3443a"/>
<rect x="6" y="218.5" width="1037" height="2" fill="#1e78d6"/>
<rect x="6" y="263" width="1037" height="2" fill="#63b967"/>
<path d="M932.2 184.7L996.7 65.5M979.6 70.9L996.7 65.5L1003 84.2" stroke="#f3443a" stroke-width="2.9" fill="none" stroke-linecap="butt" stroke-linejoin="miter"/>
</g>
<g clip-path="url(#cr)">
<rect x="6" y="459.7" width="1037" height="81.1" fill="#2196f3" fill-opacity="0.1"/>
<path d="M6 459.67H1043M6 540.74H1043" stroke="#e4e7eb" stroke-width="1" fill="none"/>
<path d="M6 459.67H1043M6 540.74H1043" stroke="#bcc0c8" stroke-width="1" stroke-dasharray="4 3.75" stroke-dashoffset="1.45" fill="none"/>
<polyline points="5.5,515.5 9.5,516.0 14.5,518.3 19.5,506.8 24.5,510.0 29.5,513.0 34.5,518.8 39.5,522.5 44.5,530.5 49.5,535.8 54.5,535.8 59.5,516.3 65.5,516.3 70.5,522.0 75.5,505.0 80.5,505.0 85.5,508.8 90.5,504.5 95.5,485.5 100.5,497.3 105.5,497.5 110.5,493.3 115.5,493.3 120.5,497.5 125.5,502.5 130.5,502.5 135.5,502.5 140.5,507.5 145.5,517.5 150.5,525.0 155.5,528.8 160.5,522.5 165.5,516.3 170.5,524.2 176.5,528.0 181.5,537.5 186.5,525.0 191.5,500.0 196.5,496.3 201.5,504.5 206.5,512.0 211.5,512.0 216.5,495.0 221.5,506.3 226.5,502.5 231.5,510.0 236.5,517.5 241.5,528.0 246.5,523.8 251.5,503.8 256.5,512.5 261.5,515.5 266.5,515.5 271.5,515.5 276.5,566.3 281.5,567.0 287.5,557.5 292.5,557.0 297.5,548.0 302.5,548.0 307.5,549.3 312.5,545.8 317.5,528.8 322.5,530.5 327.5,533.8 332.5,524.5 337.5,526.3 342.5,523.0 347.5,524.7 352.5,531.3 357.5,533.0 362.5,533.3 367.5,535.0 372.5,535.0 377.5,530.5 382.5,533.0 387.5,523.0 392.5,518.0 398.5,509.5 403.5,509.5 408.5,489.5 413.5,504.5 418.5,504.5 423.5,503.8 428.5,500.0 433.5,507.5 438.5,508.0 443.5,518.8 448.5,501.3 453.5,505.0 458.5,497.0 463.5,468.8 468.5,485.5 473.5,489.5 478.5,487.0 483.5,487.0 488.5,493.8 493.5,493.8 498.5,501.3 504.5,497.5 509.5,481.3 514.5,478.8 519.5,490.5 524.5,487.5 529.5,476.3 534.5,484.5 539.5,481.3 544.5,472.5 549.5,462.5 554.5,480.8 559.5,474.5 564.5,478.0 569.5,473.0 574.5,465.5 579.5,482.5 584.5,488.8 589.5,492.0 594.5,478.8 599.5,460.0 604.5,451.3 609.5,448.0 615.5,432.0 620.5,438.8 625.5,435.5 630.5,433.3 635.5,447.5 640.5,447.0 645.5,443.8 650.5,434.3 655.5,432.5 660.5,431.3 665.5,431.3 670.5,456.3 675.5,465.0 680.5,480.6 685.5,491.3 690.5,487.2 695.5,491.3 700.5,483.0 705.5,484.5 710.5,474.5 715.5,464.5 720.5,464.5 726.5,462.0 731.5,453.8 736.5,435.5 741.5,435.0 746.5,428.8 751.5,438.8 756.5,478.8 761.5,469.5 766.5,470.5 771.5,469.5 776.5,489.5 781.5,481.3 786.5,485.5 791.5,497.5 796.5,516.3 801.5,520.0 806.5,525.8 811.5,528.3 816.5,524.5 821.5,515.5 826.5,506.3 831.5,506.3 837.5,501.3 842.5,504.5 847.5,496.3 852.5,495.5 857.5,480.0 862.5,486.3 867.5,499.5 872.5,502.5 877.5,493.0 882.5,496.3 887.5,493.3 892.5,496.3 897.5,494.5 902.5,494.5 907.5,498.8 912.5,502.0 917.5,505.0 922.5,511.3" fill="none" stroke="#4a90e2" stroke-width="1.2" stroke-linejoin="round"/>
</g>
<rect x="5.5" y="2.5" width="1071" height="593" fill="none" stroke="#7c7c7c" stroke-width="1"/><path d="M1043.5 2V596M5 420.5H1077M5 575.5H1077" stroke="#666" stroke-width="1" fill="none"/>
<rect x="5" y="277" width="1.3" height="11" fill="#111"/>
<path d="M1043 24.00H1046.5" stroke="#666" stroke-width="1"/><text x="1050.00" y="26.70" font-size="9" fill="#5a5a5a" textLength="14.50" lengthAdjust="spacingAndGlyphs">2.70</text><path d="M1043 44.95H1046.5" stroke="#666" stroke-width="1"/><text x="1050.00" y="47.65" font-size="9" fill="#5a5a5a" textLength="14.50" lengthAdjust="spacingAndGlyphs">2.60</text><path d="M1043 65.90H1046.5" stroke="#666" stroke-width="1"/><path d="M1043 86.85H1046.5" stroke="#666" stroke-width="1"/><text x="1050.00" y="89.55" font-size="9" fill="#5a5a5a" textLength="14.50" lengthAdjust="spacingAndGlyphs">2.40</text><path d="M1043 107.80H1046.5" stroke="#666" stroke-width="1"/><text x="1050.00" y="110.50" font-size="9" fill="#5a5a5a" textLength="14.50" lengthAdjust="spacingAndGlyphs">2.30</text><path d="M1043 128.75H1046.5" stroke="#666" stroke-width="1"/><text x="1050.00" y="131.45" font-size="9" fill="#5a5a5a" textLength="14.50" lengthAdjust="spacingAndGlyphs">2.20</text><path d="M1043 149.70H1046.5" stroke="#666" stroke-width="1"/><text x="1050.00" y="152.40" font-size="9" fill="#5a5a5a" textLength="14.50" lengthAdjust="spacingAndGlyphs">2.10</text><path d="M1043 170.65H1046.5" stroke="#666" stroke-width="1"/><text x="1050.00" y="173.35" font-size="9" fill="#5a5a5a" textLength="14.50" lengthAdjust="spacingAndGlyphs">2.00</text><path d="M1043 191.60H1046.5" stroke="#666" stroke-width="1"/><path d="M1043 212.55H1046.5" stroke="#666" stroke-width="1"/><text x="1050.00" y="215.25" font-size="9" fill="#5a5a5a" textLength="14.50" lengthAdjust="spacingAndGlyphs">1.80</text><path d="M1043 233.50H1046.5" stroke="#666" stroke-width="1"/><text x="1050.00" y="236.20" font-size="9" fill="#5a5a5a" textLength="14.50" lengthAdjust="spacingAndGlyphs">1.70</text><path d="M1043 254.45H1046.5" stroke="#666" stroke-width="1"/><text x="1050.00" y="257.15" font-size="9" fill="#5a5a5a" textLength="14.50" lengthAdjust="spacingAndGlyphs">1.60</text><path d="M1043 275.40H1046.5" stroke="#666" stroke-width="1"/><text x="1050.00" y="278.10" font-size="9" fill="#5a5a5a" textLength="14.50" lengthAdjust="spacingAndGlyphs">1.50</text><path d="M1043 296.35H1046.5" stroke="#666" stroke-width="1"/><text x="1050.00" y="299.05" font-size="9" fill="#5a5a5a" textLength="14.50" lengthAdjust="spacingAndGlyphs">1.40</text><path d="M1043 317.30H1046.5" stroke="#666" stroke-width="1"/><text x="1050.00" y="320.00" font-size="9" fill="#5a5a5a" textLength="14.50" lengthAdjust="spacingAndGlyphs">1.30</text><path d="M1043 338.25H1046.5" stroke="#666" stroke-width="1"/><text x="1050.00" y="340.95" font-size="9" fill="#5a5a5a" textLength="14.50" lengthAdjust="spacingAndGlyphs">1.20</text><path d="M1043 359.20H1046.5" stroke="#666" stroke-width="1"/><text x="1050.00" y="361.90" font-size="9" fill="#5a5a5a" textLength="14.50" lengthAdjust="spacingAndGlyphs">1.10</text><path d="M1043 380.15H1046.5" stroke="#666" stroke-width="1"/><text x="1050.00" y="382.85" font-size="9" fill="#5a5a5a" textLength="14.50" lengthAdjust="spacingAndGlyphs">1.00</text><path d="M1043 401.10H1046.5" stroke="#666" stroke-width="1"/><text x="1050.00" y="403.80" font-size="9" fill="#5a5a5a" textLength="14.50" lengthAdjust="spacingAndGlyphs">0.90</text><path d="M1043 61.0H1066.5a2 2 0 0 1 2 2V70.2a2 2 0 0 1 -2 2H1043Z" fill="#f3443a"/><path d="M1043 66.5H1046.5" stroke="#fff" stroke-width="1"/><text x="1050.00" y="69.80" font-size="9" font-weight="bold" fill="#fff" textLength="14.80" lengthAdjust="spacingAndGlyphs">2.50</text><path d="M1043 111.7H1066.5a2 2 0 0 1 2 2V120.9a2 2 0 0 1 -2 2H1043Z" fill="#f3443a"/><path d="M1043 117.5H1046.5" stroke="#fff" stroke-width="1"/><text x="1050.00" y="120.50" font-size="9" font-weight="bold" fill="#fff" textLength="14.80" lengthAdjust="spacingAndGlyphs">2.25</text><path d="M1043 188.0H1066.5a2 2 0 0 1 2 2V197.2a2 2 0 0 1 -2 2H1043Z" fill="#000"/><path d="M1043 193.5H1046.5" stroke="#fff" stroke-width="1"/><text x="1050.00" y="196.80" font-size="9" font-weight="bold" fill="#fff" textLength="14.80" lengthAdjust="spacingAndGlyphs">1.89</text><path d="M1043 213.9H1066.5a2 2 0 0 1 2 2V223.1a2 2 0 0 1 -2 2H1043Z" fill="#1e78d6"/><path d="M1043 219.5H1046.5" stroke="#fff" stroke-width="1"/><text x="1050.00" y="222.70" font-size="9" font-weight="bold" fill="#fff" textLength="14.80" lengthAdjust="spacingAndGlyphs">1.77</text><path d="M1043 258.4H1066.5a2 2 0 0 1 2 2V267.6a2 2 0 0 1 -2 2H1043Z" fill="#63b967"/><path d="M1043 264.5H1046.5" stroke="#fff" stroke-width="1"/><text x="1050.00" y="267.20" font-size="9" font-weight="bold" fill="#fff" textLength="14.80" lengthAdjust="spacingAndGlyphs">1.55</text><path d="M1043 439.40H1046.5" stroke="#666" stroke-width="1"/><text x="1050.00" y="442.30" font-size="8.6" fill="#5a5a5a" textLength="18.80" lengthAdjust="spacingAndGlyphs">80.00</text><path d="M1043 459.67H1046.5" stroke="#666" stroke-width="1"/><text x="1050.00" y="462.57" font-size="8.6" fill="#5a5a5a" textLength="18.80" lengthAdjust="spacingAndGlyphs">70.00</text><path d="M1043 479.93H1046.5" stroke="#666" stroke-width="1"/><text x="1050.00" y="482.83" font-size="8.6" fill="#5a5a5a" textLength="18.80" lengthAdjust="spacingAndGlyphs">60.00</text><path d="M1043 500.20H1046.5" stroke="#666" stroke-width="1"/><text x="1050.00" y="503.10" font-size="8.6" fill="#5a5a5a" textLength="18.80" lengthAdjust="spacingAndGlyphs">50.00</text><path d="M1043 520.47H1046.5" stroke="#666" stroke-width="1"/><text x="1050.00" y="523.37" font-size="8.6" fill="#5a5a5a" textLength="18.80" lengthAdjust="spacingAndGlyphs">40.00</text><path d="M1043 540.74H1046.5" stroke="#666" stroke-width="1"/><text x="1050.00" y="543.63" font-size="8.6" fill="#5a5a5a" textLength="18.80" lengthAdjust="spacingAndGlyphs">30.00</text><path d="M1043 561.00H1046.5" stroke="#666" stroke-width="1"/><text x="1050.00" y="563.90" font-size="8.6" fill="#5a5a5a" textLength="18.80" lengthAdjust="spacingAndGlyphs">20.00</text><path d="M9.54 576V579" stroke="#777" stroke-width="1"/><text x="5.60" y="587.00" font-size="7.6" fill="#5a5a5a" textLength="7.78" lengthAdjust="spacingAndGlyphs">17</text><path d="M65.03 576V579" stroke="#777" stroke-width="1"/><text x="58.81" y="587.00" font-size="7.6" fill="#5a5a5a" textLength="12.44" lengthAdjust="spacingAndGlyphs">Aug</text><path d="M170.97 576V579" stroke="#777" stroke-width="1"/><text x="164.75" y="587.00" font-size="7.6" fill="#5a5a5a" textLength="12.44" lengthAdjust="spacingAndGlyphs">Sep</text><path d="M226.46 576V579" stroke="#777" stroke-width="1"/><text x="222.57" y="587.00" font-size="7.6" fill="#5a5a5a" textLength="7.78" lengthAdjust="spacingAndGlyphs">16</text><path d="M281.95 576V579" stroke="#777" stroke-width="1"/><text x="276.51" y="587.00" font-size="7.6" fill="#5a5a5a" textLength="10.88" lengthAdjust="spacingAndGlyphs">Oct</text><path d="M372.75 576V579" stroke="#777" stroke-width="1"/><text x="366.53" y="587.00" font-size="7.6" fill="#5a5a5a" textLength="12.43" lengthAdjust="spacingAndGlyphs">Nov</text><path d="M478.69 576V579" stroke="#777" stroke-width="1"/><text x="472.47" y="587.00" font-size="7.6" fill="#5a5a5a" textLength="12.43" lengthAdjust="spacingAndGlyphs">Dec</text><path d="M534.18 576V579" stroke="#777" stroke-width="1"/><text x="530.29" y="587.00" font-size="7.6" fill="#5a5a5a" textLength="7.78" lengthAdjust="spacingAndGlyphs">16</text><path d="M589.67 576V579" stroke="#777" stroke-width="1"/><text x="581.22" y="587.00" font-size="7.6" font-weight="bold" fill="#4a4a4a" textLength="16.91" lengthAdjust="spacingAndGlyphs">2021</text><path d="M690.56 576V579" stroke="#777" stroke-width="1"/><text x="684.54" y="587.00" font-size="7.6" fill="#5a5a5a" textLength="12.05" lengthAdjust="spacingAndGlyphs">Feb</text><path d="M781.36 576V579" stroke="#777" stroke-width="1"/><text x="775.34" y="587.00" font-size="7.6" fill="#5a5a5a" textLength="12.04" lengthAdjust="spacingAndGlyphs">Mar</text><path d="M836.85 576V579" stroke="#777" stroke-width="1"/><text x="832.97" y="587.00" font-size="7.6" fill="#5a5a5a" textLength="7.78" lengthAdjust="spacingAndGlyphs">16</text><path d="M897.39 576V579" stroke="#777" stroke-width="1"/><text x="891.95" y="587.00" font-size="7.6" fill="#5a5a5a" textLength="10.88" lengthAdjust="spacingAndGlyphs">Apr</text><path d="M993.24 576V579" stroke="#777" stroke-width="1"/><text x="986.63" y="587.00" font-size="7.6" fill="#5a5a5a" textLength="13.21" lengthAdjust="spacingAndGlyphs" font-style="italic">May</text>
<text x="11.30" y="17.50" font-size="8.6" font-weight="bold" fill="#4a4a4a" textLength="117.50" lengthAdjust="spacingAndGlyphs">CGN NEW ENERGY, 1D, HKEX</text>
<text x="11.30" y="29.60" font-size="8.8" fill="#5a5a5a" textLength="72.30" lengthAdjust="spacingAndGlyphs">BB (20, close, 2, 0)</text>
<text x="11.30" y="41.60" font-size="8.8" fill="#5a5a5a" textLength="65.20" lengthAdjust="spacingAndGlyphs">MA (50, close, 0)</text>
<text x="11.80" y="435.60" font-size="8.7" fill="#5a5a5a" textLength="53.40" lengthAdjust="spacingAndGlyphs">RSI (14, close)</text>
<circle cx="161.4" cy="409.6" r="8.8" fill="#fff" stroke="#f06a7a" stroke-width="1"/>
<text x="159.25" y="412.00" font-size="8.8" fill="#e8455a" textLength="4.30" lengthAdjust="spacingAndGlyphs">E</text>
<circle cx="867.6" cy="409.6" r="8.8" fill="#fff" stroke="#f06a7a" stroke-width="1"/>
<text x="865.45" y="412.00" font-size="8.8" fill="#e8455a" textLength="4.30" lengthAdjust="spacingAndGlyphs">E</text>
<rect x="752.5" y="339" width="278" height="42.5" fill="#fff"/><path d="M752.8 340H784.7V349.7H763.6V357.3H782.9V366.1H763.6V380.1H752.8Z" fill="#083a4f"/><path fill-rule="evenodd" d="M808.2 339.1C820.5 339.1 828.6 348 828.6 360C828.6 372.3 820.5 381 808.2 381C795.9 381 787.8 372.3 787.8 360C787.8 348 795.9 339.1 808.2 339.1Z M808.4 345C803.2 345 800 350.5 800 357V364C800 370.5 803.2 375.8 808.4 375.8C813.6 375.8 816.8 370.5 816.8 364V357C816.8 350.5 813.6 345 808.4 345Z" fill="#12b257"/><path d="M810.4 355.3H834.6L833.4 358.6H809.2Z M809.4 362.6H833.6L832.4 365.9H808.2Z" fill="#12b257"/><path fill-rule="evenodd" d="M838.2 340.1H860.5C869 340.1 873.9 345 873.9 353.2C873.9 359.5 870.5 363.8 865.3 365.5L875 380.1H862.2L853.8 366.6H848.7V380.1H838.2Z M848.7 350H859.8C862 350 863.2 351.6 863.2 354.5C863.2 357.4 862 359.1 859.8 359.1H848.7Z" fill="#083a4f"/><path d="M879.4 340.1H911.8V350H890.2V355.7H909.7V364.5H890.2V370.5H911.8V380.1H879.4Z" fill="#083a4f"/><path d="M916 340.1H930.5L935.7 349.5L941.3 340.1H955.2L942.9 359.6L955.6 380.1H941.1L935.7 370.2L930.2 380.1H915.8L928.4 359.8Z" fill="#083a4f"/><circle cx="962" cy="365.6" r="3.2" fill="#083a4f"/><text x="966.6" y="368.9" font-size="29" font-weight="bold" fill="#083a4f" stroke="#083a4f" stroke-width="0.9" textLength="63" lengthAdjust="spacingAndGlyphs">com</text>
<g fill="none" stroke="#eaeaea" stroke-width="1.5"><rect x="916" y="545" width="37" height="37" rx="8"/><path d="M947.5 563.5a13 13 0 1 1 -5 -10.3M925 558.5c4 -5 12 -5 15 1.5M934.5 577c-6 -1 -9 -6 -9 -9"/></g>
<text x="962" y="574" font-size="33" font-weight="bold" fill="#fff" fill-opacity="0.35" stroke="#e9e9e9" stroke-width="1" textLength="107" lengthAdjust="spacingAndGlyphs">WikiFX</text>
</svg></body></html>
